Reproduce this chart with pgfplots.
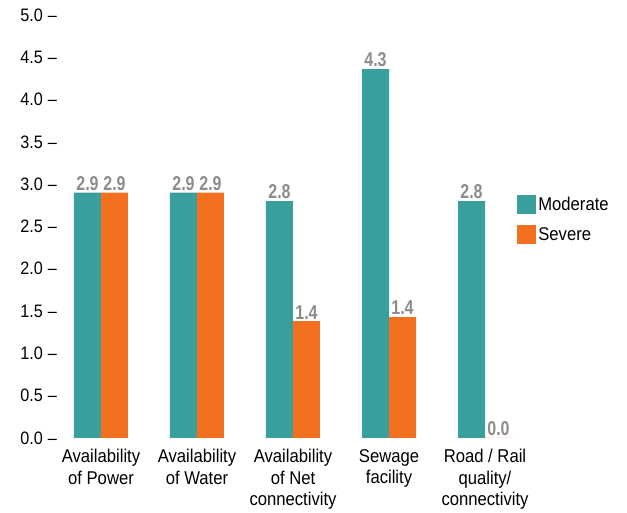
\documentclass[border=0pt]{standalone}
\usepackage{fontspec}
\setmainfont{Liberation Sans}[FakeStretch=0.9, BoldFeatures={FakeStretch=0.8}]
\usepackage{pgfplots}
\usepackage{pgfplotstable}
\pgfplotsset{compat=1.18}
\definecolor{teal1}{RGB}{56,159,156}
\definecolor{orange1}{RGB}{243,112,33}
\definecolor{lab}{RGB}{140,140,140}
\pgfplotstableread{
x y label
0 2.9 2.9
1 2.9 2.9
2 2.8 2.8
3 4.36 4.3
4 2.8 2.8
}\moderate
\pgfplotstableread{
x y label
0 2.9 2.9
1 2.9 2.9
2 1.38 1.4
3 1.43 1.4
4 0 0.0
}\severe
\begin{document}
\begin{tikzpicture}
\useasboundingbox (-60pt,-75pt) rectangle (567pt,438pt);
\begin{axis}[
  at={(0pt,0pt)}, anchor=south west,
  scale only axis, width=482.6pt, height=423pt,
  xmin=-0.427, xmax=4.6, ymin=0, ymax=5,
  axis line style={draw=none}, tick style={draw=none},
  ybar=0pt, bar width=27pt,
  ytick={0,0.5,1,1.5,2,2.5,3,3.5,4,4.5,5},
  /pgf/number format/assume math mode=true,
  yticklabel={\pgfmathprintnumber[fixed,fixed zerofill,precision=1]{\tick}\hspace{5pt}–},
  yticklabel style={font=\fontsize{18}{20}\selectfont, inner sep=1pt, xshift=-2pt},
  xtick={0,1,2,3,4},
  xticklabels={{Availability\\of Power},{Availability\\of Water},{Availability\\of Net\\connectivity},{Sewage\\facility},{Road / Rail\\quality/\\connectivity}},
  xticklabel style={align=center, font=\fontsize{18.5}{21.5}\selectfont, inner sep=1pt, yshift=-6pt},
  point meta=explicit symbolic,
  nodes near coords={\pgfplotspointmeta},
  nodes near coords style={font=\bfseries\fontsize{20}{20}\selectfont, text=lab, anchor=south, inner sep=2pt},
  legend style={at={(0.941,0.58)}, anchor=north west, draw=none, fill=none, font=\fontsize{18.5}{20}\selectfont, row sep=11pt},
  legend cell align=left,
  legend image code/.code={\fill[#1] (0pt,-9.5pt) rectangle (19pt,9.5pt);},
]
\addplot[fill=teal1, draw=none] table[x=x, y=y, meta=label] {\moderate};
\addplot[fill=orange1, draw=none] table[x=x, y=y, meta=label] {\severe};
\legend{Moderate, Severe}
\end{axis}
\end{tikzpicture}
\end{document}
